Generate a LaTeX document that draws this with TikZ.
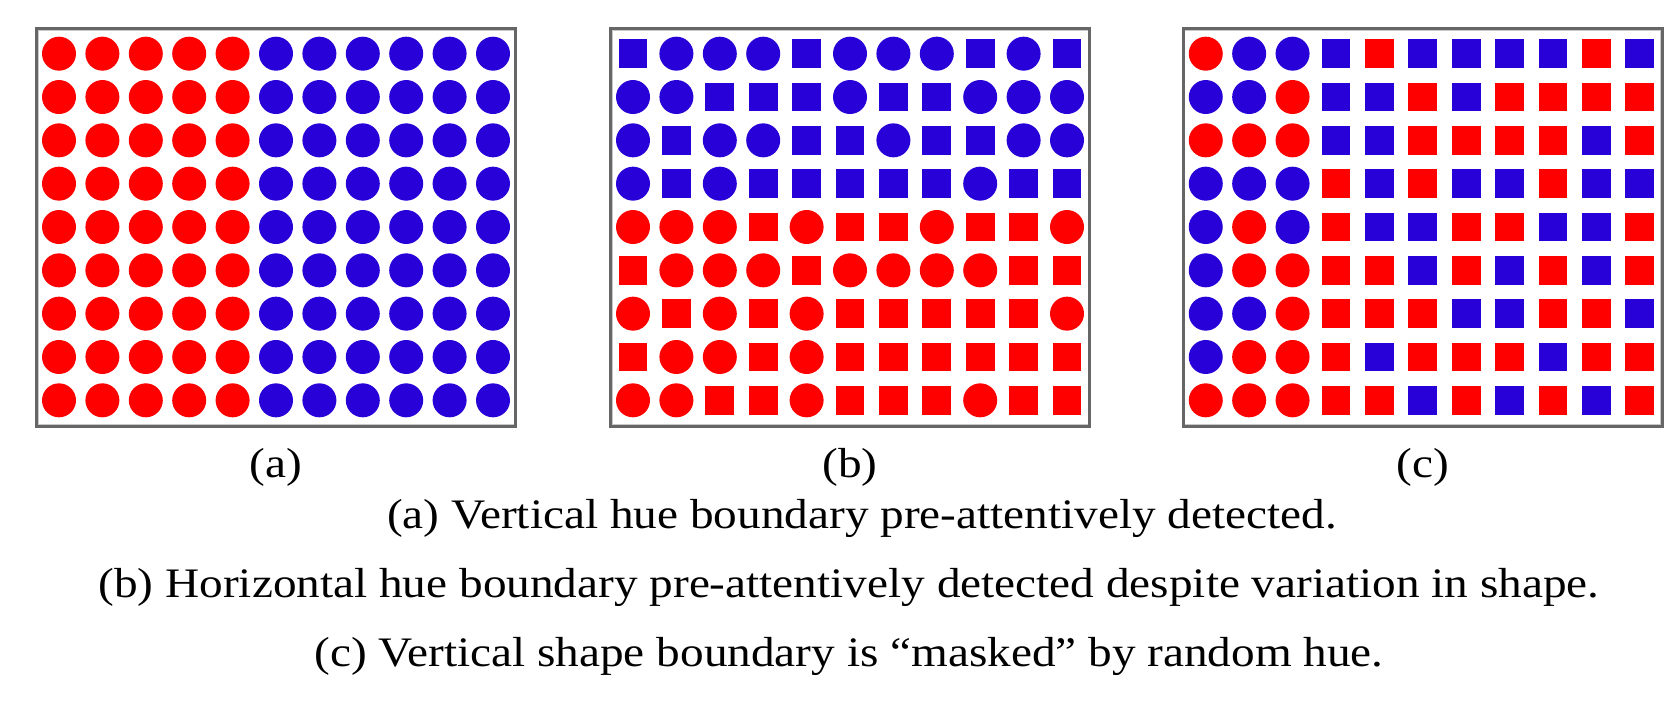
\documentclass[tikz,border=0pt]{standalone}
\usepackage{fontspec}
\setmainfont{Liberation Serif}
\definecolor{hred}{RGB}{255,0,0}
\definecolor{hblue}{RGB}{40,0,216}
\definecolor{framegray}{RGB}{102,102,102}
\definecolor{frameinner}{RGB}{200,200,200}
\newcommand{\wide}[1]{\scalebox{1.125}[1]{#1}}
\begin{document}
\begin{tikzpicture}[x=1pt,y=-1pt,
  cR/.style={circle,fill=hred,minimum size=34pt,inner sep=0pt},
  cB/.style={circle,fill=hblue,minimum size=34pt,inner sep=0pt},
  sR/.style={rectangle,fill=hred,minimum size=28.7pt,inner sep=0pt},
  sB/.style={rectangle,fill=hblue,minimum size=28.7pt,inner sep=0pt},
  panelframe/.style={draw=framegray,line width=3pt,minimum width=479.5pt,minimum height=397.4pt,inner sep=0pt},
  panelinner/.style={draw=frameinner,line width=0.8pt,minimum width=476pt,minimum height=394pt,inner sep=0pt},
  lbl/.style={font=\fontsize{42}{50}\selectfont,inner sep=0pt,anchor=base}]
\useasboundingbox (0,0) rectangle (1680,704);
\fill[white] (0,0) rectangle (1680,704);
% frames
\node[panelinner] (ia) at (276,227.5) {};
\node[panelinner] (ib) at (850,227.5) {};
\node[panelinner] (ic) at (1422.75,227.5) {};
\node[panelframe] (fa) at (276,227.5) {};
\node[panelframe] (fb) at (850,227.5) {};
\node[panelframe] (fc) at (1422.75,227.5) {};
% panel (a)
\foreach \j in {0,...,8} {
  \foreach \s [count=\i from 0] in {cR,cR,cR,cR,cR,cB,cB,cB,cB,cB,cB} {
    \node[\s] (a-\j-\i) at ({276+(\i-5)*43.4},{227+(\j-4)*43.33}) {};
  }
}
% panel (b)
\foreach \r [count=\j from 0] in {
  {sB,cB,cB,cB,sB,cB,cB,cB,sB,cB,sB},
  {cB,cB,sB,sB,sB,cB,sB,sB,cB,cB,cB},
  {cB,sB,cB,cB,sB,sB,cB,sB,sB,cB,cB},
  {cB,sB,cB,sB,sB,sB,sB,sB,cB,sB,sB},
  {cR,cR,cR,sR,cR,sR,sR,cR,sR,sR,cR},
  {sR,cR,cR,cR,sR,cR,cR,cR,cR,sR,sR},
  {cR,sR,cR,sR,cR,sR,sR,sR,sR,sR,cR},
  {sR,cR,cR,sR,cR,sR,sR,sR,sR,sR,sR},
  {cR,cR,sR,sR,cR,sR,sR,sR,cR,sR,sR}} {
  \foreach \s [count=\i from 0] in \r {
    \node[\s] (b-\j-\i) at ({850+(\i-5)*43.4},{227+(\j-4)*43.33}) {};
  }
}
% panel (c)
\foreach \r [count=\j from 0] in {
  {cR,cB,cB,sB,sR,sB,sB,sB,sB,sR,sB},
  {cB,cB,cR,sB,sB,sR,sB,sR,sR,sR,sR},
  {cR,cR,cR,sB,sB,sR,sR,sR,sR,sB,sR},
  {cB,cB,cB,sR,sB,sR,sB,sB,sR,sB,sB},
  {cB,cR,cB,sR,sB,sB,sR,sR,sB,sB,sR},
  {cB,cR,cR,sR,sR,sB,sR,sB,sR,sB,sR},
  {cB,cB,cR,sR,sR,sR,sB,sB,sR,sR,sB},
  {cB,cR,cR,sR,sB,sR,sR,sR,sB,sR,sR},
  {cR,cR,cR,sR,sR,sB,sR,sB,sR,sB,sR}} {
  \foreach \s [count=\i from 0] in \r {
    \node[\s] (c-\j-\i) at ({1422.75+(\i-5)*43.4},{227+(\j-4)*43.33}) {};
  }
}
% sub-labels
\node[lbl] (la) at (276,477) {\wide{(a)}};
\node[lbl] (lb) at (850,477) {\wide{(b)}};
\node[lbl] (lc) at (1422.75,477) {\wide{(c)}};
% caption
\node[lbl] (cap1) at (862,528) {\wide{(a) Vertical hue boundary pre-attentively detected.}};
\node[lbl] (cap2) at (849,597) {\wide{(b) Horizontal hue boundary pre-attentively detected despite variation in shape.}};
\node[lbl] (cap3) at (849,666) {\wide{(c) Vertical shape boundary is “masked” by random hue.}};
\end{tikzpicture}
\end{document}
